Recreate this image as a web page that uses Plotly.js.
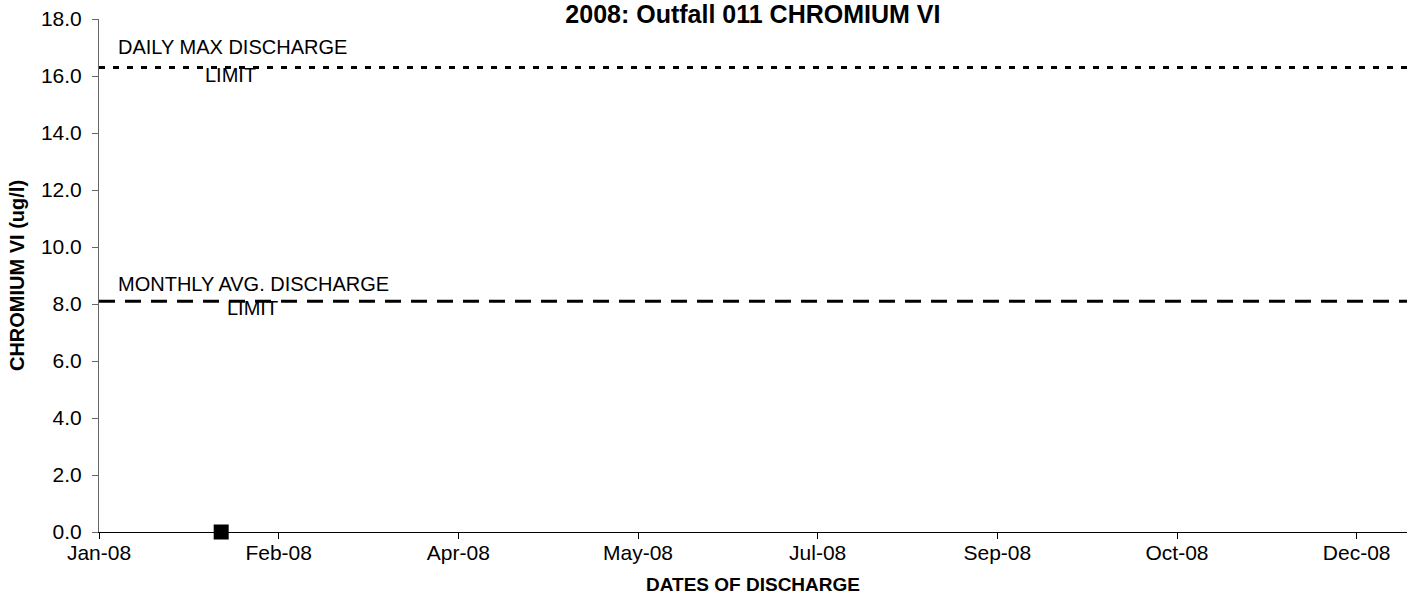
<!DOCTYPE html>
<html>
<head>
<meta charset="utf-8">
<script src="https://cdn.plot.ly/plotly-3.0.1.min.js"></script>
<style>html,body{margin:0;padding:0;background:#fff;}#chart{width:1411px;height:600px;}</style>
</head>
<body>
<div id="chart"></div>
<script>
// Data
const sampleDates = ['2008-02-04'];
const sampleValues = [0];
const axisStart = '2008-01-01';
const axisEnd = '2008-12-30';
const dailyMaxLimit = 16.3;
const monthlyAvgLimit = 8.1;
const xTickVals = ['2008-01-01','2008-02-20','2008-04-10','2008-05-30','2008-07-19','2008-09-07','2008-10-27','2008-12-16'];
const xTickText = ['Jan-08','Feb-08','Apr-08','May-08','Jul-08','Sep-08','Oct-08','Dec-08'];
const yTickVals = [0,2,4,6,8,10,12,14,16,18];

const FONT = 'Liberation Sans, Arial, sans-serif';

const traces = [
  {
    x: [axisStart, axisEnd], y: [dailyMaxLimit, dailyMaxLimit],
    mode: 'lines', line: {color: '#000', width: 3, dash: '6px,8px'},
    hoverinfo: 'skip', showlegend: false
  },
  {
    x: [axisStart, axisEnd], y: [monthlyAvgLimit, monthlyAvgLimit],
    mode: 'lines', line: {color: '#000', width: 3, dash: '16px,10px'},
    hoverinfo: 'skip', showlegend: false
  },
  {
    x: sampleDates, y: sampleValues,
    mode: 'markers', marker: {symbol: 'square', size: 15, color: '#000'},
    cliponaxis: false, showlegend: false
  }
];

const annFont = {family: FONT, size: 20, color: '#000'};
const layout = {
  width: 1411, height: 600,
  margin: {l: 99, r: 4, t: 19, b: 68},
  paper_bgcolor: '#fff', plot_bgcolor: '#fff',
  showlegend: false,
  title: {
    text: '<b>2008: Outfall 011 CHROMIUM VI</b>',
    font: {family: FONT, size: 25, color: '#000'},
    x: 0.5336, xanchor: 'center', y: 0.976, yanchor: 'middle'
  },
  xaxis: {
    type: 'date', range: [axisStart, axisEnd],
    tickmode: 'array', tickvals: xTickVals, ticktext: xTickText,
    showgrid: false, zeroline: false,
    showline: true, linecolor: '#000', linewidth: 1,
    ticks: 'outside', ticklen: 6, tickcolor: '#000', tickwidth: 1,
    ticklabelstandoff: -4,
    tickfont: {family: FONT, size: 21, color: '#000'},
    title: {text: '<b>DATES OF DISCHARGE</b>', font: {family: FONT, size: 19, color: '#000'}, standoff: 14},
    automargin: false, fixedrange: true
  },
  yaxis: {
    range: [0, 18], tickmode: 'array', tickvals: yTickVals,
    tickformat: '.1f',
    showgrid: false, zeroline: false,
    showline: true, linecolor: '#666', linewidth: 1,
    ticks: 'outside', ticklen: 6, tickcolor: '#666', tickwidth: 1,
    ticklabelstandoff: 6,
    tickfont: {family: FONT, size: 21, color: '#000'},
    title: {text: '<b>CHROMIUM VI (ug/l)</b>', font: {family: FONT, size: 20, color: '#000'}, standoff: 10},
    automargin: false, fixedrange: true
  },
  annotations: [
    {xref: 'paper', yref: 'y', x: 0.1017, y: 17.02, text: 'DAILY MAX DISCHARGE', showarrow: false, font: annFont, xanchor: 'center', yanchor: 'middle'},
    {xref: 'paper', yref: 'y', x: 0.1009, y: 16.04, text: 'LIMIT', showarrow: false, font: annFont, xanchor: 'center', yanchor: 'middle'},
    {xref: 'paper', yref: 'y', x: 0.1185, y: 8.70, text: 'MONTHLY AVG. DISCHARGE', showarrow: false, font: annFont, xanchor: 'center', yanchor: 'middle'},
    {xref: 'paper', yref: 'y', x: 0.1177, y: 7.86, text: 'LIMIT', showarrow: false, font: annFont, xanchor: 'center', yanchor: 'middle'}
  ]
};

Plotly.newPlot('chart', traces, layout, {displayModeBar: false, staticPlot: true});
</script>
</body>
</html>
